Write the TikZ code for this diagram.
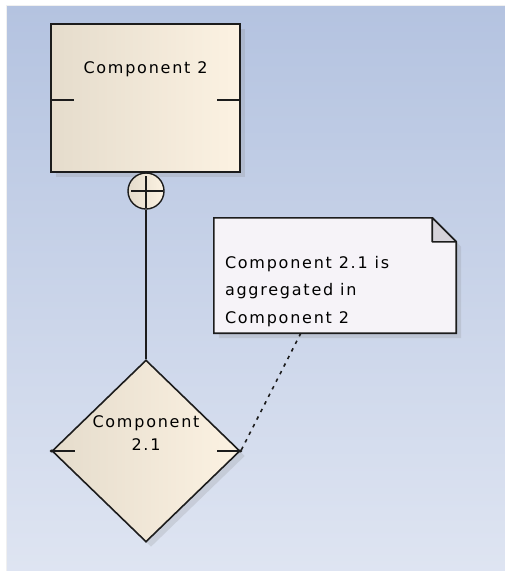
\documentclass[tikz,border=0pt]{standalone}
\usepackage{fontspec}
\setmainfont{DejaVu Sans}[LetterSpace=11]
\usepackage{tikz}
\usetikzlibrary{shapes.geometric,shadows,positioning}

\definecolor{bgtop}{RGB}{180,195,224}
\definecolor{bgbot}{RGB}{223,229,242}
\definecolor{compleft}{RGB}{229,220,204}
\definecolor{compright}{RGB}{252,242,226}
\definecolor{notefill}{RGB}{246,243,248}
\definecolor{foldfill}{RGB}{213,210,217}
\definecolor{edge}{RGB}{28,28,28}

\begin{document}
\begin{tikzpicture}[x=1pt,y=1pt,
    comp/.style={draw=edge, line width=1.6pt, left color=compleft, right color=compright,
      drop shadow={shadow xshift=5pt, shadow yshift=-5pt, opacity=0.2}},
    lbl/.style={font=\fontsize{16}{22.5}\selectfont, inner sep=0pt, align=center},
    port/.style={draw=edge, line width=1.4pt},
    link/.style={draw=edge, line width=1.4pt}]

    \useasboundingbox (0,0) rectangle (504,-571);

    % canvas
    \fill[white] (0,0) rectangle (504,-571);
    \fill[gray!12] (6,-5) rectangle (510,-580);
    \shade[top color=bgtop, bottom color=bgbot] (7,-6) rectangle (510,-580);

    % Component 2
    \node[comp, rectangle, minimum width=189pt, minimum height=148pt, inner sep=0pt] (comp2) at (145.5,-98) {};
    \node[lbl, anchor=base] (comp2name) at ([yshift=-50]comp2.north) {Component 2};
    \draw[port] ([yshift=-2]comp2.west) -- ++(24,0);
    \draw[port] ([yshift=-2]comp2.east) -- ++(-24,0);

    % Component 2.1
    \node[comp, diamond, minimum width=188pt, minimum height=182pt, inner sep=0pt] (comp21) at (146,-451) {};
    \node[lbl] (comp21name) at ([yshift=18]comp21.center) {Component\\2.1};
    \draw[port] (comp21.west) -- ++(24,0);
    \draw[port] (comp21.east) -- ++(-24,0);
    \fill[edge] (comp21.west) circle (1.6);
    \fill[edge] (comp21.east) circle (1.6);

    % aggregation end
    \node[circle, draw=edge, line width=1.4pt, left color=compleft, right color=compright,
      minimum size=36pt, inner sep=0pt] (agg) at (146,-191) {};
    \draw[edge, line width=1.4pt, shorten <=4pt, shorten >=2pt] (agg.west) -- (agg.east);
    \draw[edge, line width=1.4pt, shorten <=4pt, shorten >=2pt] (agg.north) -- (agg.south);
    \draw[link] (agg.south) -- (comp21.north);

    % note
    \node[rectangle, minimum width=242pt, minimum height=115pt, inner sep=0pt] (note) at (335,-275.5) {};
    \path[draw=edge, line width=1.6pt, fill=notefill,
      drop shadow={shadow xshift=5pt, shadow yshift=-5pt, opacity=0.2}]
      (note.north west) -- ([xshift=-24]note.north east) -- ([yshift=-24]note.north east)
      -- (note.south east) -- (note.south west) -- cycle;
    \filldraw[draw=edge, line width=1.6pt, fill=foldfill, line join=round]
      ([xshift=-24]note.north east) |- ([yshift=-24]note.north east) -- cycle;
    \node[font=\fontsize{16}{27.5}\selectfont, inner sep=0pt, align=left, anchor=north west]
      (notetext) at ([xshift=11,yshift=-38]note.north west)
      {Component 2.1 is\\aggregated in\\Component 2};

    % note link
    \coordinate (notefoot) at ([xshift=87]note.south west);
    \draw[edge, line width=1.6pt, dash pattern=on 3.5pt off 5pt] (notefoot) -- (comp21.east);
\end{tikzpicture}
\end{document}
